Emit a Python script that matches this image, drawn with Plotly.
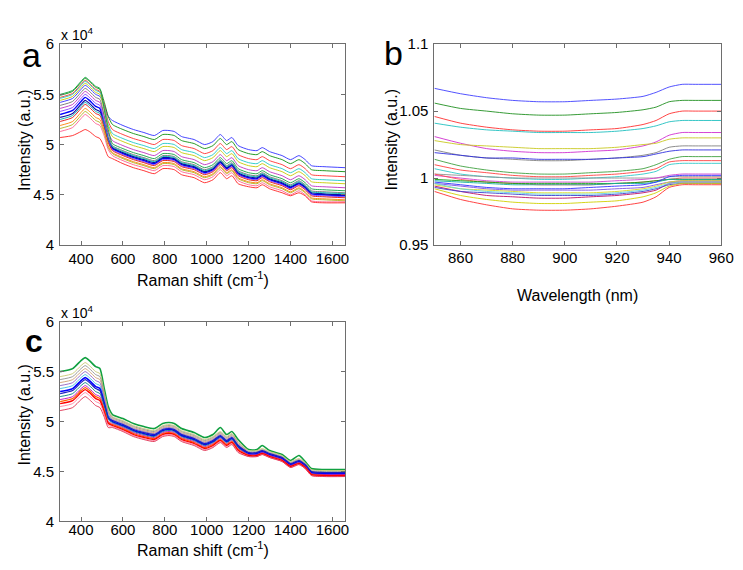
import plotly.graph_objects as go

# ---------------- data ----------------
raman_shift = [300, 360, 400, 420, 440, 470, 490, 510, 530, 550, 600, 650, 700, 750, 790, 820, 845, 880, 940,
               990, 1030, 1065, 1095, 1120, 1150, 1200, 1240, 1265, 1300, 1360, 1400, 1440, 1470, 1500, 1560, 1660]

# panel a: raw Raman spectra (intensity in units of 1e4)
a_01 = [5.42, 5.46, 5.55, 5.59, 5.56, 5.50, 5.48, 5.40, 5.28, 5.24, 5.19, 5.15, 5.12, 5.09, 5.14, 5.14, 5.13, 5.08, 5.05, 5.00, 5.03, 5.10, 5.04, 5.07, 4.99, 4.95, 4.94, 4.97, 4.93, 4.89, 4.85, 4.89, 4.85, 4.79, 4.78, 4.77]
a_02 = [5.49, 5.53, 5.62, 5.66, 5.63, 5.57, 5.55, 5.43, 5.28, 5.20, 5.15, 5.11, 5.08, 5.05, 5.10, 5.10, 5.09, 5.04, 5.01, 4.96, 4.99, 5.06, 5.00, 5.03, 4.95, 4.91, 4.90, 4.93, 4.89, 4.85, 4.81, 4.85, 4.81, 4.75, 4.74, 4.73]
a_03 = [5.47, 5.51, 5.60, 5.64, 5.61, 5.55, 5.53, 5.40, 5.23, 5.15, 5.10, 5.06, 5.03, 5.00, 5.05, 5.05, 5.04, 4.99, 4.96, 4.91, 4.94, 5.01, 4.95, 4.98, 4.90, 4.86, 4.85, 4.88, 4.84, 4.80, 4.76, 4.80, 4.76, 4.70, 4.69, 4.68]
a_04 = [5.46, 5.50, 5.59, 5.63, 5.60, 5.54, 5.52, 5.38, 5.20, 5.11, 5.06, 5.02, 4.99, 4.96, 5.01, 5.01, 5.00, 4.95, 4.92, 4.87, 4.90, 4.97, 4.91, 4.94, 4.86, 4.82, 4.81, 4.84, 4.80, 4.76, 4.72, 4.76, 4.72, 4.66, 4.65, 4.64]
a_05 = [5.44, 5.48, 5.57, 5.61, 5.58, 5.52, 5.50, 5.35, 5.18, 5.08, 5.03, 4.99, 4.96, 4.93, 4.98, 4.98, 4.97, 4.92, 4.89, 4.84, 4.87, 4.94, 4.88, 4.91, 4.83, 4.79, 4.78, 4.81, 4.77, 4.73, 4.69, 4.73, 4.69, 4.63, 4.62, 4.61]
a_06 = [5.36, 5.40, 5.49, 5.53, 5.50, 5.44, 5.42, 5.29, 5.12, 5.04, 4.99, 4.95, 4.92, 4.89, 4.94, 4.94, 4.93, 4.88, 4.85, 4.80, 4.83, 4.90, 4.84, 4.87, 4.79, 4.75, 4.74, 4.77, 4.73, 4.69, 4.65, 4.69, 4.65, 4.59, 4.58, 4.57]
a_07 = [5.50, 5.54, 5.63, 5.67, 5.64, 5.58, 5.56, 5.36, 5.15, 5.01, 4.96, 4.92, 4.89, 4.86, 4.91, 4.91, 4.90, 4.85, 4.82, 4.77, 4.80, 4.87, 4.81, 4.84, 4.76, 4.72, 4.71, 4.74, 4.70, 4.66, 4.62, 4.66, 4.62, 4.56, 4.55, 4.54]
a_08 = [5.39, 5.43, 5.52, 5.56, 5.53, 5.47, 5.45, 5.29, 5.10, 4.99, 4.94, 4.90, 4.87, 4.84, 4.89, 4.89, 4.88, 4.83, 4.80, 4.75, 4.78, 4.85, 4.79, 4.82, 4.74, 4.70, 4.69, 4.72, 4.68, 4.64, 4.60, 4.64, 4.60, 4.54, 4.53, 4.52]
a_09 = [5.30, 5.34, 5.43, 5.47, 5.44, 5.38, 5.36, 5.22, 5.05, 4.96, 4.91, 4.87, 4.84, 4.81, 4.86, 4.86, 4.85, 4.80, 4.77, 4.72, 4.75, 4.82, 4.76, 4.79, 4.71, 4.67, 4.66, 4.69, 4.65, 4.61, 4.57, 4.61, 4.57, 4.51, 4.50, 4.49]
a_10 = [5.27, 5.31, 5.40, 5.44, 5.41, 5.35, 5.33, 5.21, 5.05, 4.97, 4.92, 4.88, 4.85, 4.82, 4.87, 4.87, 4.86, 4.81, 4.78, 4.73, 4.76, 4.83, 4.77, 4.80, 4.72, 4.68, 4.67, 4.70, 4.66, 4.62, 4.58, 4.62, 4.58, 4.52, 4.51, 4.50]
a_11 = [5.33, 5.37, 5.46, 5.50, 5.47, 5.41, 5.39, 5.23, 5.05, 4.95, 4.90, 4.86, 4.83, 4.80, 4.85, 4.85, 4.84, 4.79, 4.76, 4.71, 4.74, 4.81, 4.75, 4.78, 4.70, 4.66, 4.65, 4.68, 4.64, 4.60, 4.56, 4.60, 4.56, 4.50, 4.49, 4.48]
a_12 = [5.25, 5.29, 5.38, 5.42, 5.39, 5.33, 5.31, 5.20, 5.05, 4.98, 4.93, 4.89, 4.86, 4.83, 4.88, 4.88, 4.87, 4.82, 4.79, 4.74, 4.77, 4.84, 4.78, 4.81, 4.73, 4.69, 4.68, 4.71, 4.67, 4.63, 4.59, 4.63, 4.59, 4.53, 4.52, 4.51]
a_13 = [5.23, 5.27, 5.36, 5.40, 5.37, 5.31, 5.29, 5.17, 5.02, 4.94, 4.89, 4.85, 4.82, 4.79, 4.84, 4.84, 4.83, 4.78, 4.75, 4.70, 4.73, 4.80, 4.74, 4.77, 4.69, 4.65, 4.64, 4.67, 4.63, 4.59, 4.55, 4.59, 4.55, 4.49, 4.48, 4.47]
a_14 = [5.19, 5.23, 5.32, 5.36, 5.33, 5.27, 5.25, 5.14, 4.99, 4.92, 4.87, 4.83, 4.80, 4.77, 4.82, 4.82, 4.81, 4.76, 4.73, 4.68, 4.71, 4.78, 4.72, 4.75, 4.67, 4.63, 4.62, 4.65, 4.61, 4.57, 4.53, 4.57, 4.53, 4.47, 4.46, 4.45]
a_15 = [5.16, 5.20, 5.29, 5.33, 5.30, 5.24, 5.22, 5.12, 4.97, 4.91, 4.86, 4.82, 4.79, 4.76, 4.81, 4.81, 4.80, 4.75, 4.72, 4.67, 4.70, 4.77, 4.71, 4.74, 4.66, 4.62, 4.61, 4.64, 4.60, 4.56, 4.52, 4.56, 4.52, 4.46, 4.45, 4.44]
a_16 = [5.13, 5.17, 5.26, 5.30, 5.27, 5.21, 5.19, 5.09, 4.95, 4.89, 4.84, 4.80, 4.77, 4.74, 4.79, 4.79, 4.78, 4.73, 4.70, 4.65, 4.68, 4.75, 4.69, 4.72, 4.64, 4.60, 4.59, 4.62, 4.58, 4.54, 4.50, 4.54, 4.50, 4.44, 4.43, 4.43]
a_17 = [5.07, 5.09, 5.13, 5.15, 5.13, 5.08, 5.06, 4.98, 4.88, 4.86, 4.81, 4.77, 4.74, 4.71, 4.76, 4.76, 4.75, 4.70, 4.67, 4.62, 4.65, 4.72, 4.66, 4.69, 4.61, 4.58, 4.57, 4.60, 4.56, 4.52, 4.49, 4.52, 4.49, 4.43, 4.42, 4.42]

# panel b: NIR spectra, relative intensity
wavelength = [850, 860, 870, 880, 890, 900, 910, 920, 930, 935, 940, 945, 950, 960]
b_01 = [1.067, 1.063, 1.060, 1.058, 1.057, 1.057, 1.058, 1.059, 1.061, 1.064, 1.068, 1.070, 1.070, 1.070]
b_02 = [1.056, 1.052, 1.050, 1.048, 1.047, 1.047, 1.048, 1.049, 1.051, 1.053, 1.057, 1.058, 1.058, 1.058]
b_03 = [1.046, 1.041, 1.038, 1.036, 1.035, 1.035, 1.036, 1.037, 1.040, 1.043, 1.048, 1.050, 1.050, 1.050]
b_04 = [1.041, 1.038, 1.036, 1.035, 1.034, 1.034, 1.034, 1.035, 1.037, 1.039, 1.042, 1.043, 1.043, 1.043]
b_05 = [1.031, 1.026, 1.022, 1.020, 1.019, 1.019, 1.020, 1.021, 1.024, 1.027, 1.032, 1.034, 1.034, 1.034]
b_06 = [1.028, 1.025, 1.024, 1.023, 1.022, 1.022, 1.022, 1.023, 1.025, 1.026, 1.029, 1.030, 1.030, 1.030]
b_07 = [1.021, 1.017, 1.015, 1.014, 1.013, 1.013, 1.014, 1.015, 1.017, 1.019, 1.023, 1.024, 1.024, 1.024]
b_08 = [1.019, 1.017, 1.015, 1.015, 1.014, 1.014, 1.014, 1.015, 1.016, 1.018, 1.020, 1.021, 1.021, 1.021]
b_09 = [1.014, 1.009, 1.006, 1.004, 1.003, 1.003, 1.004, 1.005, 1.007, 1.010, 1.014, 1.016, 1.016, 1.016]
b_10 = [1.010, 1.006, 1.004, 1.002, 1.001, 1.001, 1.002, 1.003, 1.005, 1.007, 1.012, 1.013, 1.013, 1.013]
b_11 = [1.007, 1.003, 1.001, 1.000, 0.999, 0.999, 1.000, 1.001, 1.003, 1.005, 1.010, 1.011, 1.011, 1.011]
b_12 = [1.003, 1.002, 1.001, 1.000, 1.000, 1.000, 1.000, 1.000, 1.000, 1.000, 1.001, 1.001, 1.001, 1.001]
b_13 = [1.002, 1.000, 0.998, 0.997, 0.997, 0.997, 0.997, 0.998, 0.999, 1.000, 1.002, 1.003, 1.003, 1.003]
b_14 = [1.003, 0.999, 0.997, 0.996, 0.995, 0.995, 0.995, 0.996, 0.997, 0.998, 0.999, 1.000, 1.000, 1.000]
b_15 = [0.999, 0.998, 0.997, 0.996, 0.996, 0.996, 0.996, 0.996, 0.997, 0.998, 0.999, 0.999, 0.999, 0.999]
b_16 = [0.998, 0.997, 0.996, 0.995, 0.995, 0.995, 0.995, 0.996, 0.996, 0.997, 0.999, 0.999, 0.999, 0.999]
b_17 = [0.997, 0.995, 0.993, 0.992, 0.992, 0.992, 0.993, 0.994, 0.995, 0.997, 1.001, 1.002, 1.002, 1.002]
b_18 = [0.996, 0.994, 0.992, 0.991, 0.991, 0.991, 0.991, 0.992, 0.993, 0.995, 0.997, 0.998, 0.998, 0.998]
b_19 = [0.995, 0.992, 0.991, 0.990, 0.989, 0.989, 0.989, 0.990, 0.992, 0.994, 0.997, 0.998, 0.998, 0.998]
b_20 = [0.994, 0.990, 0.987, 0.986, 0.985, 0.985, 0.986, 0.987, 0.989, 0.991, 0.996, 0.997, 0.997, 0.997]
b_21 = [0.993, 0.990, 0.989, 0.988, 0.987, 0.987, 0.987, 0.988, 0.990, 0.992, 0.995, 0.996, 0.996, 0.996]
b_22 = [0.996, 0.992, 0.990, 0.989, 0.988, 0.988, 0.988, 0.989, 0.991, 0.993, 0.996, 0.997, 0.997, 0.997]
b_23 = [0.992, 0.987, 0.984, 0.982, 0.981, 0.981, 0.982, 0.983, 0.986, 0.989, 0.994, 0.996, 0.996, 0.996]
b_24 = [0.990, 0.984, 0.980, 0.977, 0.976, 0.976, 0.977, 0.979, 0.982, 0.986, 0.993, 0.995, 0.995, 0.995]

# panel c: corrected Raman spectra (intensity in units of 1e4)
c_01 = [5.50, 5.53, 5.61, 5.64, 5.61, 5.55, 5.53, 5.34, 5.15, 5.07, 5.03, 4.98, 4.95, 4.93, 4.98, 4.99, 4.98, 4.93, 4.89, 4.84, 4.87, 4.94, 4.87, 4.90, 4.82, 4.72, 4.72, 4.76, 4.71, 4.67, 4.61, 4.66, 4.60, 4.53, 4.52, 4.52]
c_02 = [5.45, 5.48, 5.56, 5.59, 5.56, 5.50, 5.48, 5.30, 5.12, 5.05, 5.01, 4.96, 4.93, 4.91, 4.96, 4.97, 4.96, 4.91, 4.87, 4.82, 4.85, 4.90, 4.85, 4.88, 4.80, 4.71, 4.71, 4.73, 4.70, 4.66, 4.60, 4.63, 4.59, 4.52, 4.51, 4.51]
c_03 = [5.42, 5.45, 5.53, 5.56, 5.53, 5.47, 5.45, 5.28, 5.10, 5.04, 5.00, 4.95, 4.92, 4.90, 4.95, 4.96, 4.95, 4.90, 4.86, 4.81, 4.84, 4.89, 4.84, 4.87, 4.79, 4.70, 4.70, 4.72, 4.69, 4.65, 4.59, 4.62, 4.58, 4.51, 4.50, 4.50]
c_04 = [5.39, 5.42, 5.50, 5.53, 5.50, 5.44, 5.42, 5.26, 5.09, 5.03, 4.99, 4.94, 4.91, 4.89, 4.94, 4.95, 4.94, 4.89, 4.85, 4.80, 4.83, 4.88, 4.83, 4.86, 4.78, 4.69, 4.69, 4.71, 4.68, 4.64, 4.58, 4.61, 4.57, 4.50, 4.49, 4.49]
c_05 = [5.36, 5.39, 5.47, 5.50, 5.47, 5.41, 5.39, 5.23, 5.07, 5.02, 4.98, 4.93, 4.90, 4.88, 4.93, 4.94, 4.93, 4.88, 4.84, 4.79, 4.82, 4.87, 4.82, 4.85, 4.77, 4.69, 4.69, 4.71, 4.68, 4.64, 4.58, 4.61, 4.57, 4.50, 4.49, 4.49]
c_06 = [5.33, 5.36, 5.44, 5.47, 5.44, 5.38, 5.36, 5.21, 5.06, 5.01, 4.97, 4.92, 4.89, 4.87, 4.92, 4.93, 4.92, 4.87, 4.83, 4.78, 4.81, 4.86, 4.81, 4.84, 4.76, 4.68, 4.68, 4.70, 4.67, 4.63, 4.57, 4.60, 4.56, 4.49, 4.48, 4.48]
c_07 = [5.30, 5.33, 5.41, 5.44, 5.41, 5.35, 5.33, 5.19, 5.04, 5.00, 4.96, 4.91, 4.88, 4.86, 4.91, 4.92, 4.91, 4.86, 4.82, 4.77, 4.80, 4.85, 4.80, 4.83, 4.75, 4.68, 4.68, 4.70, 4.67, 4.63, 4.57, 4.60, 4.56, 4.49, 4.48, 4.48]
c_08 = [5.28, 5.31, 5.39, 5.42, 5.39, 5.33, 5.31, 5.18, 5.04, 5.01, 4.97, 4.92, 4.89, 4.87, 4.92, 4.93, 4.92, 4.87, 4.83, 4.78, 4.81, 4.86, 4.81, 4.84, 4.76, 4.69, 4.69, 4.71, 4.68, 4.64, 4.58, 4.61, 4.57, 4.50, 4.49, 4.49]
c_09 = [5.25, 5.28, 5.36, 5.39, 5.36, 5.30, 5.28, 5.16, 5.02, 4.99, 4.95, 4.90, 4.87, 4.85, 4.90, 4.91, 4.90, 4.85, 4.81, 4.76, 4.79, 4.84, 4.79, 4.82, 4.74, 4.67, 4.67, 4.69, 4.66, 4.62, 4.56, 4.59, 4.55, 4.48, 4.47, 4.47]
c_10 = [5.22, 5.25, 5.33, 5.36, 5.33, 5.27, 5.25, 5.13, 5.00, 4.98, 4.94, 4.89, 4.86, 4.84, 4.89, 4.90, 4.89, 4.84, 4.80, 4.75, 4.78, 4.83, 4.78, 4.81, 4.73, 4.67, 4.67, 4.69, 4.66, 4.62, 4.56, 4.59, 4.55, 4.48, 4.47, 4.47]
c_11 = [5.20, 5.23, 5.31, 5.34, 5.31, 5.25, 5.23, 5.12, 4.99, 4.97, 4.93, 4.88, 4.85, 4.83, 4.88, 4.89, 4.88, 4.83, 4.79, 4.74, 4.77, 4.82, 4.77, 4.80, 4.72, 4.66, 4.66, 4.68, 4.65, 4.61, 4.55, 4.58, 4.54, 4.47, 4.46, 4.46]
c_12 = [5.18, 5.21, 5.29, 5.32, 5.29, 5.23, 5.21, 5.10, 4.98, 4.96, 4.92, 4.87, 4.84, 4.82, 4.87, 4.88, 4.87, 4.82, 4.78, 4.73, 4.76, 4.81, 4.76, 4.79, 4.71, 4.66, 4.66, 4.68, 4.65, 4.61, 4.55, 4.58, 4.54, 4.47, 4.46, 4.46]
c_13 = [5.15, 5.18, 5.26, 5.29, 5.26, 5.20, 5.18, 5.08, 4.96, 4.95, 4.91, 4.86, 4.83, 4.81, 4.86, 4.87, 4.86, 4.81, 4.77, 4.72, 4.75, 4.80, 4.75, 4.78, 4.70, 4.65, 4.65, 4.67, 4.64, 4.60, 4.54, 4.57, 4.53, 4.46, 4.45, 4.45]
c_14 = [5.11, 5.14, 5.22, 5.25, 5.22, 5.16, 5.14, 5.05, 4.94, 4.94, 4.90, 4.85, 4.82, 4.80, 4.85, 4.86, 4.85, 4.80, 4.76, 4.71, 4.74, 4.79, 4.74, 4.77, 4.69, 4.65, 4.65, 4.67, 4.64, 4.60, 4.54, 4.57, 4.53, 4.46, 4.45, 4.45]

raman_ticks = [400, 600, 800, 1000, 1200, 1400, 1600]
raman_yticks = [4, 4.5, 5, 5.5, 6]
raman_yticktext = ["4", "4.5", "5", "5.5", "6"]
wl_ticks = [860, 880, 900, 920, 940, 960]
b_yticks = [0.95, 1.0, 1.05, 1.1]
b_yticktext = ["0.95", "1", "1.05", "1.1"]

# ---------------- styles ----------------
a_series = [a_01, a_02, a_03, a_04, a_05, a_06, a_07, a_08, a_09, a_10, a_11, a_12, a_13, a_14, a_15, a_16, a_17]
a_colors = ["#3030ff", "#109010", "#ff3030", "#20c8c8", "#c8c800", "#c030c0", "#10a040", "#707070",
            "#0000ff", "#1010a0", "#8040ff", "#00b0b0", "#e01010", "#ff8000", "#b0b020", "#ff6090", "#ff2020"]
a_widths = [0.9] * 8 + [1.4, 1.2] + [0.9] * 7

b_series = [b_01, b_02, b_03, b_04, b_05, b_06, b_07, b_08, b_09, b_10, b_11, b_12,
            b_13, b_14, b_15, b_16, b_17, b_18, b_19, b_20, b_21, b_22, b_23, b_24]
b_colors = ["#4040ff", "#209020", "#ff3030", "#20c0c0", "#d030d0", "#c8c820", "#808080", "#3030e0",
            "#40a040", "#ff4040", "#30c8c8", "#909090", "#d040d0", "#ff5050", "#10a010", "#10b0a0",
            "#3030ff", "#8050e0", "#d8d820", "#c01060", "#4040d0", "#60d0e0", "#d0d000", "#ff3030"]

c_series = [c_01, c_02, c_03, c_04, c_05, c_06, c_07, c_08, c_09, c_10, c_11, c_12, c_13, c_14]
c_colors = ["#10a040", "#c8c870", "#909090", "#d0a070", "#9060c0", "#40c0e0", "#0000ff", "#2020c0",
            "#008080", "#c000c0", "#ff6000", "#ff0000", "#ff80a0", "#e03050"]
c_widths = [1.6, 0.9, 0.9, 0.9, 0.9, 0.9, 1.6, 1.2, 0.9, 0.9, 1.2, 1.4, 0.9, 0.9]

FONT = "Liberation Sans, Arial, sans-serif"
W, H = 743, 570

fig = go.Figure()
for ys, col, w in zip(a_series, a_colors, a_widths):
    fig.add_trace(go.Scatter(x=raman_shift, y=ys, mode="lines",
                             line=dict(color=col, width=w, shape="spline", smoothing=0.6),
                             xaxis="x", yaxis="y", hoverinfo="skip"))
for ys, col in zip(b_series, b_colors):
    fig.add_trace(go.Scatter(x=wavelength, y=ys, mode="lines",
                             line=dict(color=col, width=0.9, shape="spline", smoothing=0.6),
                             xaxis="x2", yaxis="y2", hoverinfo="skip"))
for ys, col, w in zip(c_series, c_colors, c_widths):
    fig.add_trace(go.Scatter(x=raman_shift, y=ys, mode="lines",
                             line=dict(color=col, width=w, shape="spline", smoothing=0.6),
                             xaxis="x3", yaxis="y3", hoverinfo="skip"))


def px_x(p):
    return p / W


def px_y(p):
    return 1 - p / H


axis_common = dict(showline=True, linecolor="#6e6e6e", linewidth=1, mirror="ticks", ticks="inside",
                   ticklen=4, tickcolor="#6e6e6e", showgrid=False, zeroline=False,
                   tickfont=dict(family=FONT, size=15, color="black"))

a_dom_x = [px_x(53), px_x(343)]
b_dom_x = [px_x(434), px_x(726)]
top_dom_y = [px_y(235), px_y(28)]
c_dom_y = [px_y(520), px_y(314)]

fig.update_layout(
    width=W, height=H, margin=dict(l=0, r=0, t=0, b=0),
    paper_bgcolor="white", plot_bgcolor="white", showlegend=False,
    font=dict(family=FONT, color="black"),
    xaxis=dict(domain=a_dom_x, range=[300, 1660], tickvals=raman_ticks, anchor="y",
               ticklabelstandoff=0, **axis_common),
    yaxis=dict(domain=top_dom_y, range=[4, 6], tickvals=raman_yticks, ticktext=raman_yticktext,
               anchor="x", ticklabelstandoff=2, **axis_common),
    xaxis2=dict(domain=b_dom_x, range=[850, 960], tickvals=wl_ticks, anchor="y2",
                ticklabelstandoff=-1, **axis_common),
    yaxis2=dict(domain=top_dom_y, range=[0.95, 1.1], tickvals=b_yticks, ticktext=b_yticktext,
                anchor="x2", ticklabelstandoff=2, **axis_common),
    xaxis3=dict(domain=a_dom_x, range=[300, 1660], tickvals=raman_ticks, anchor="y3",
                ticklabelstandoff=-5, **axis_common),
    yaxis3=dict(domain=c_dom_y, range=[4, 6], tickvals=raman_yticks, ticktext=raman_yticktext,
                anchor="x3", ticklabelstandoff=2, **axis_common),
)


def ann(text, x, y, size, xanchor="center", yanchor="middle", angle=0):
    fig.add_annotation(text=text, x=px_x(x), y=px_y(y), xref="paper", yref="paper",
                       xanchor=xanchor, yanchor=yanchor, textangle=angle, showarrow=False,
                       font=dict(family=FONT, size=size, color="black"))


# axis titles
ann("Intensity (a.u.)", 17, 127, 16, angle=-90)
ann("Intensity (a.u.)", 390, 127, 16, angle=-90)
ann("Intensity (a.u.)", 17, 410, 16, angle=-90)
ann("Raman shift (cm<sup>-1</sup>)", 198, 270, 16)
ann("Wavelength (nm)", 580, 287, 16)
ann("Raman shift (cm<sup>-1</sup>)", 198, 548, 16)

# exponent labels
ann("x 10<sup>4</sup>", 52, 29, 14, xanchor="left", yanchor="bottom")
ann("x 10<sup>4</sup>", 52, 315, 14, xanchor="left", yanchor="bottom")

# panel letters
ann("a", 24, 39, 34)
ann("b", 392, 37, 34)
ann("<b>c</b>", 26, 334, 32)

fig.write_html("out.html")
